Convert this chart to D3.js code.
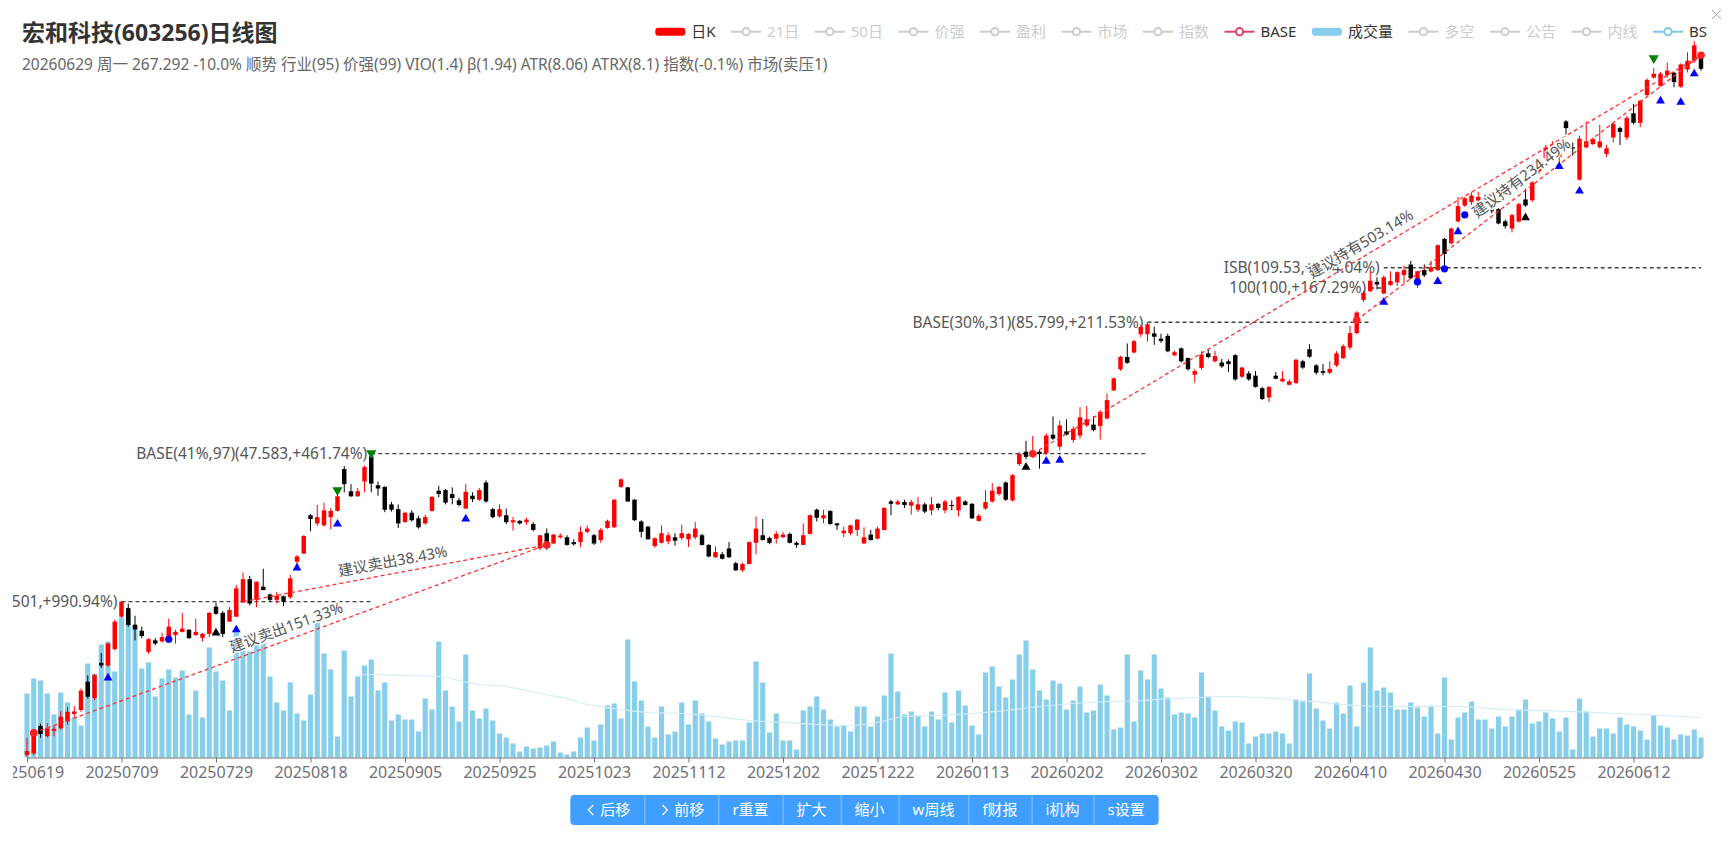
<!DOCTYPE html>
<html lang="zh-CN">
<head>
<meta charset="utf-8"/>
<title>宏和科技(603256)日线图</title>
<script src="https://d3js.org/d3.v7.min.js"></script>
<style>
  html, body { margin: 0; background: #fff; }
  svg { display: block; font-family: "Noto Sans", "Noto Sans CJK SC", sans-serif; }
</style>
</head>
<body>
<svg id="chart" width="1736" height="852"></svg>
<script>
// trading calendar (weekdays minus exchange holidays)
const holidays = ["20251001","20251002","20251003","20251006","20251007","20251008",
  "20260101","20260102","20260216","20260217","20260218","20260219","20260220","20260223",
  "20260406","20260501","20260504","20260505","20260619"];
const fmt = d3.timeFormat("%Y%m%d");
const dates = d3.timeDay.range(new Date(2025, 5, 19), new Date(2026, 5, 30))
  .filter(d => d.getDay() % 6 !== 0)
  .map(fmt)
  .filter(s => !holidays.includes(s));

const tickLabels = ["20250619","20250709","20250729","20250818","20250905","20250925","20251023",
  "20251112","20251202","20251222","20260113","20260202","20260302","20260320","20260410",
  "20260430","20260525","20260612"];

const open = [12.32,12.40,14.03,13.40,13.73,13.88,14.30,14.80,15.07,17.11,
15.90,18.62,18.40,19.80,22.90,23.80,22.10,21.50,19.56,20.60,
20.50,20.90,21.10,21.40,21.60,21.10,20.85,21.20,23.95,23.30,
22.40,22.90,24.40,27.10,24.70,26.20,25.30,24.70,25.10,25.00,
29.30,30.40,36.10,34.80,34.50,35.80,36.80,44.40,40.20,39.30,
42.00,47.00,41.30,41.00,37.90,37.10,35.00,36.50,35.60,34.80,
36.80,40.30,40.40,39.70,38.60,37.20,39.40,38.70,41.80,37.10,
35.90,36.10,34.96,35.20,35.00,34.70,31.10,33.30,31.80,32.70,
32.70,32.00,32.00,33.50,33.00,32.30,34.10,34.20,41.00,40.90,
38.70,35.10,34.30,31.45,31.90,32.10,32.70,32.60,32.40,32.70,
33.00,31.60,29.90,30.30,31.10,29.10,28.20,29.00,31.90,33.00,
32.60,32.50,32.70,33.20,31.90,31.60,33.20,37.00,35.60,36.80,
34.80,33.30,33.30,33.80,31.80,33.10,32.50,33.80,38.40,37.90,
38.30,37.70,37.00,37.90,36.90,38.00,36.90,37.80,36.90,38.40,
38.00,35.20,37.20,38.40,39.70,41.80,38.60,45.40,48.00,47.10,
48.00,47.70,51.80,49.10,52.60,50.60,51.60,54.00,54.20,53.90,
55.70,63.20,69.50,73.40,74.90,81.30,81.30,81.60,79.70,80.70,
74.00,76.30,73.10,67.80,69.90,74.60,72.00,71.60,72.00,74.00,
67.20,68.20,67.50,63.80,61.20,67.50,65.80,64.80,65.30,72.00,
76.00,70.70,68.90,68.40,70.70,73.00,76.60,81.70,94.80,98.60,
102.80,97.60,101.40,102.60,106.00,111.10,104.00,108.40,107.70,108.40,
124.70,122.20,134.80,144.80,147.00,148.00,150.00,142.90,142.50,134.90,
130.60,134.80,148.80,148.20,168.80,179.30,185.00,180.00,211.10,188.00,
162.60,188.00,190.70,188.00,182.50,196.50,204.90,196.50,219.00,209.80,
237.60,257.00,247.70,259.60,262.60,246.70,266.50,277.20,283.00];

const high = [13.30,13.80,14.17,14.20,14.05,15.00,15.30,15.33,16.60,17.60,
17.70,19.45,20.40,22.60,24.60,24.30,23.00,21.90,20.80,20.80,
21.30,22.70,21.60,23.30,21.65,22.70,21.30,23.40,24.40,23.50,
23.90,26.40,27.90,27.50,26.80,28.40,25.40,25.60,25.20,27.60,
30.20,33.00,36.30,37.80,38.20,37.30,39.60,45.00,41.50,40.80,
45.10,47.58,42.00,41.10,38.30,37.90,36.70,36.90,36.00,36.20,
39.30,41.20,40.60,40.90,39.00,41.50,40.00,40.80,42.20,37.30,
37.90,37.20,35.80,35.30,35.70,35.00,33.00,34.00,33.20,33.30,
33.00,32.40,34.30,34.50,33.20,34.10,35.40,38.80,42.60,41.00,
38.80,35.30,34.40,32.70,34.50,33.40,33.30,34.60,33.30,35.00,
33.20,31.70,31.40,30.60,32.00,29.30,29.20,32.10,35.90,35.50,
32.80,33.60,33.50,33.40,32.10,34.80,36.20,37.20,37.00,36.90,
34.90,34.30,34.60,35.50,34.20,33.80,34.30,37.40,38.70,38.70,
38.70,38.70,39.20,38.20,39.20,38.10,38.70,38.60,39.30,38.60,
38.10,36.30,40.40,41.70,41.20,42.00,43.40,47.90,50.40,51.50,
48.40,52.10,56.20,55.20,55.50,53.80,58.60,58.90,56.30,57.80,
62.30,67.00,73.80,78.00,79.30,84.90,85.80,84.10,81.50,81.50,
75.50,76.60,73.10,69.50,75.30,75.90,75.50,72.80,72.60,74.30,
70.30,68.90,68.90,64.20,64.40,68.60,68.90,66.40,72.80,72.50,
77.70,71.10,71.10,72.00,75.30,77.70,84.30,90.10,98.80,107.80,
105.00,105.80,107.80,107.80,110.60,113.00,108.00,111.20,113.00,121.60,
125.10,131.20,150.40,150.40,153.70,154.00,152.00,146.00,143.10,135.90,
139.60,146.60,156.10,161.60,174.20,190.00,193.00,186.00,212.50,192.00,
198.00,211.00,196.50,208.00,190.00,210.00,206.30,216.60,228.40,232.70,
256.10,268.10,263.80,275.10,263.80,273.90,287.90,302.70,286.00];

const low = [12.20,12.30,13.30,13.32,13.40,13.80,14.10,14.60,14.95,15.87,
15.75,18.20,18.30,19.70,22.80,21.90,20.60,20.80,19.40,20.15,
20.40,20.80,20.30,21.35,20.75,21.00,20.50,20.90,23.10,20.90,
22.40,22.90,24.40,24.10,23.90,25.80,24.50,24.30,24.00,24.80,
28.90,30.30,33.60,34.40,34.30,33.90,36.70,40.00,39.20,39.20,
40.00,40.00,39.40,36.60,36.70,34.10,34.90,35.10,34.00,34.60,
36.70,39.10,37.90,37.90,37.60,37.10,38.30,38.50,38.20,35.60,
35.70,34.70,33.70,34.60,34.60,33.60,30.90,30.90,31.70,32.50,
31.50,31.50,31.30,33.30,31.60,31.90,34.00,34.10,40.80,38.30,
35.20,32.70,32.40,31.20,31.80,31.70,31.50,32.30,31.30,32.40,
31.50,29.90,29.80,29.60,29.80,28.10,28.00,29.00,30.30,32.20,
31.70,31.80,32.60,31.80,31.20,31.60,33.10,35.10,34.80,34.60,
33.80,32.70,33.00,32.90,31.80,32.20,32.40,33.70,36.10,37.80,
37.30,36.20,36.60,36.40,36.10,36.90,36.40,36.90,35.90,37.70,
35.50,35.10,37.00,38.20,39.40,38.50,38.40,45.00,46.40,46.70,
44.50,47.40,50.60,48.30,51.60,50.00,50.90,53.60,52.60,50.70,
55.50,63.00,69.00,71.20,74.60,80.30,78.70,77.50,78.20,75.00,
73.70,71.60,69.10,65.40,69.30,73.00,71.60,69.90,68.60,66.00,
66.80,66.00,64.00,60.50,59.90,66.40,65.60,64.60,65.10,69.60,
73.10,67.80,67.60,68.00,70.20,72.80,75.90,81.30,94.00,98.10,
99.40,97.20,101.00,101.00,102.30,104.00,100.00,105.00,107.30,107.90,
109.53,121.50,134.20,143.90,145.30,146.00,145.00,140.00,133.10,130.60,
128.40,134.00,143.90,147.20,167.00,177.00,183.00,176.00,199.00,181.00,
162.00,187.00,190.00,187.00,180.00,192.00,190.00,194.30,208.40,205.90,
235.90,255.80,246.70,257.00,246.00,245.50,263.00,274.50,265.00];

const close = [12.54,13.74,13.53,13.88,13.85,14.63,14.95,14.97,16.44,16.00,
17.62,18.40,20.30,22.40,24.50,22.07,21.63,21.00,20.70,20.30,
20.90,21.90,21.40,21.70,20.80,21.40,21.20,23.30,23.20,21.20,
23.60,26.00,27.10,24.30,26.80,25.80,24.70,25.15,24.50,27.20,
30.00,32.90,35.50,35.80,36.90,36.80,39.30,41.50,39.30,40.20,
44.80,41.60,40.70,37.00,37.00,34.80,36.50,35.30,34.20,35.80,
39.20,39.70,38.20,39.00,37.80,40.10,38.80,40.40,38.40,35.80,
37.10,35.00,35.30,34.80,35.40,33.80,33.00,31.40,33.10,32.95,
31.60,31.70,33.50,34.00,31.80,33.80,35.20,38.70,42.40,38.40,
35.30,33.50,32.40,32.55,33.30,33.00,32.20,33.30,33.20,34.00,
31.60,30.00,30.60,29.70,29.90,28.20,29.00,32.00,34.00,32.30,
31.90,33.20,33.10,31.90,31.60,33.00,36.10,35.70,36.10,34.70,
34.50,33.70,34.50,35.40,32.70,32.30,34.00,37.30,38.00,38.40,
37.80,38.30,37.90,36.70,37.90,37.30,38.40,37.60,39.20,37.80,
35.60,36.00,38.30,40.30,41.00,38.70,43.20,47.50,46.90,47.90,
47.50,51.60,50.90,54.00,51.80,53.20,56.00,55.50,52.90,57.40,
60.50,66.70,73.40,71.50,78.80,84.00,85.00,80.40,78.90,75.30,
75.00,72.00,69.50,68.90,74.20,73.40,73.70,70.40,71.10,66.40,
70.00,66.40,64.20,60.80,64.20,66.60,66.60,65.80,72.50,70.00,
73.50,68.40,68.40,69.60,74.60,77.10,81.70,89.60,97.90,103.30,
101.60,105.00,103.20,107.40,108.40,104.50,107.80,105.90,109.70,121.20,
116.50,130.60,144.40,149.50,151.40,150.50,147.00,141.10,133.60,132.00,
138.70,145.70,144.80,160.50,172.40,187.80,190.00,183.00,204.90,187.00,
195.50,193.10,195.00,193.00,187.10,208.70,201.50,214.30,209.80,231.70,
254.40,261.50,261.50,265.20,251.90,272.70,277.20,297.00,267.29];

const volume = [64,79,77,64,43,65,55,40,32,94,
84,113,116,86,140,145,131,89,95,61,
79,88,80,87,43,67,40,110,86,77,
47,127,107,106,113,119,81,55,47,75,
44,37,63,136,104,88,21,107,61,81,
92,98,67,75,37,43,38,38,26,59,
48,116,67,51,36,103,47,39,49,37,
24,20,14,6,11,9,10,12,16,5,
3,6,20,30,17,33,52,54,39,118,
76,57,31,20,51,23,26,55,33,57,
44,36,19,13,16,17,17,35,96,75,
25,44,17,17,8,47,51,61,48,38,
31,32,26,51,51,31,41,62,104,66,
43,46,42,31,46,38,65,35,67,52,
32,23,85,91,71,60,78,103,117,88,
67,58,77,74,48,57,71,45,47,73,
62,28,30,103,36,87,78,103,69,60,
43,45,44,40,85,61,47,31,27,36,
35,14,21,24,24,26,24,14,58,56,
84,49,37,29,55,44,72,31,75,110,
67,70,65,48,48,55,50,41,52,24,
80,18,40,45,56,38,38,29,41,31,
41,48,58,34,36,45,39,26,40,8,
59,46,21,29,29,24,40,33,31,27,
18,42,32,30,18,23,22,28,20];

// volume moving average, read at a few candles
const volMaIdx = [49,51,56,61,66,71,76,81,83,87,92,97,102,107,112,117,122,126,130,135,140,145,150,155,160,165,170,178,187,192,197,202,212,219,229,239,248];
const volMaVal = [82,83,82,81,74,71,64,57,53,49,45,44,41,37,35,33,32,35,41,42,44,47,51,54,56,57,59,61,58,55,52,51,51,48,46,43,40];

// horizontal reference levels
const levelLabels = ["BASE(52%,14)(24.501,+990.94%)","BASE(41%,97)(47.583,+461.74%)",
  "BASE(30%,31)(85.799,+211.53%)","100(100,+167.29%)","ISB(109.53,+144.04%)"];
const levelPrices = [24.501, 47.583, 85.799, 100, 109.53];
const levelFrom = [14, 51, 166, 199, 201];
const levelTo = [51, 166, 199, 201, 248];

// trend suggestions: label, start [candle, price], end [candle, price]
const trendLabels = ["建议卖出151.33%","建议卖出38.43%","建议持有503.14%","建议持有234.49%"];
const trendFrom = [[1, 13.6], [32, 24.5], [149, 47.55], [197, 86.6]];
const trendTo = [[77, 31.6], [77, 31.6], [248, 284], [248, 284]];

// BS markers: [candle, price]
const buyTri = [[12,17.4],[31,21.6],[40,28.5],[46,34.7],[65,35.5],[151,46.0],[153,46.2],[201,93.9],
  [209,103.0],[212,128.8],[227,172.6],[230,154.5],[242,231.5],[245,230.1],[247,261.4]];
const holdDot = [[21,20.7],[206,102.8],[210,109.0],[213,138.8]];
const warnTri = [[28,21.3],[148,44.8],[222,137.1]];
const sellTri = [[46,40.4],[51,47.7],[241,280.5]];
const pivotDot = [[1,13.6],[77,31.6],[149,47.55],[197,86.6],[248,284]];

const legendNames = ["日K","21日","50日","价强","盈利","市场","指数","BASE","成交量","多空","公告","内线","BS"];
const legendOn = [true,false,false,false,false,false,false,true,true,false,false,false,true];
const legendColor = ["#ff0000","#ccc","#ccc","#ccc","#ccc","#ccc","#ccc","#dd4466","#87ceeb","#ccc","#ccc","#ccc","#7ec8ea"];
const legendShape = ["rect","line","line","line","line","line","line","line","rect","line","line","line","line"];

const buttonLabels = ["后移","前移","r重置","扩大","缩小","w周线","f财报","i机构","s设置"];

const title = "宏和科技(603256)日线图";
const subtitle = "20260629 周一 267.292 -10.0% 顺势 行业(95) 价强(99) VIO(1.4) β(1.94) ATR(8.06) ATRX(8.1) 指数(-0.1%) 市场(卖压1)";

// ---------------------------------------------------------------
const svg = d3.select("#chart");
const x = d3.scalePoint().domain(dates).range([27, 1701]);
const step = x.step();
const y = d3.scaleLog().domain([12, 300]).range([760.8, 43.1]);
const yVol = d3.scaleLinear().domain([0, 140]).range([757.5, 617.5]);
const xi = i => x(dates[i]);

svg.append("defs").append("clipPath").attr("id", "plotClip")
  .append("rect").attr("x", 13).attr("y", 0).attr("width", 1710).attr("height", 790);
const plot = svg.append("g").attr("clip-path", "url(#plotClip)");

const candles = dates.map((d, i) => ({ d, o: open[i], h: high[i], l: low[i], c: close[i], v: volume[i] }));

// volume
plot.append("g").selectAll("rect").data(candles).join("rect")
  .attr("x", d => x(d.d) - step * 0.38)
  .attr("width", step * 0.76)
  .attr("y", d => yVol(d.v))
  .attr("height", d => yVol(0) - yVol(d.v))
  .attr("fill", "#87ceeb");

plot.append("path")
  .datum(d3.zip(volMaIdx, volMaVal))
  .attr("d", d3.line().x(d => xi(d[0])).y(d => yVol(d[1])).curve(d3.curveMonotoneX))
  .attr("fill", "none").attr("stroke", "#d3edf8").attr("stroke-width", 1.2);

// reference levels
levelLabels.forEach((lab, k) => {
  const yy = y(levelPrices[k]);
  plot.append("line")
    .attr("x1", xi(levelFrom[k])).attr("x2", xi(levelTo[k]))
    .attr("y1", yy).attr("y2", yy)
    .attr("stroke", "#444").attr("stroke-width", 1.4).attr("stroke-dasharray", "4,3");
  plot.append("text")
    .attr("x", xi(levelFrom[k]) - 4).attr("y", yy).attr("dy", "0.35em")
    .attr("text-anchor", "end").attr("font-size", 15.5).attr("fill", "#555")
    .text(lab);
});

// candles
const bw = step * 0.66;
const cg = plot.append("g").selectAll("g").data(candles).join("g")
  .attr("fill", d => d.c >= d.o ? "#ff0000" : "#000")
  .attr("stroke", d => d.c >= d.o ? "#ff0000" : "#000");
cg.append("line")
  .attr("x1", d => x(d.d)).attr("x2", d => x(d.d))
  .attr("y1", d => y(d.h)).attr("y2", d => y(d.l))
  .attr("stroke-width", 1);
cg.append("rect")
  .attr("x", d => x(d.d) - bw / 2).attr("width", bw)
  .attr("y", d => y(Math.max(d.o, d.c)))
  .attr("height", d => Math.max(1, y(Math.min(d.o, d.c)) - y(Math.max(d.o, d.c))))
  .attr("stroke", "none");

// trend lines
trendLabels.forEach((lab, k) => {
  plot.append("line")
    .attr("x1", xi(trendFrom[k][0])).attr("y1", y(trendFrom[k][1]))
    .attr("x2", xi(trendTo[k][0])).attr("y2", y(trendTo[k][1]))
    .attr("stroke", "#ff3030").attr("stroke-width", 1.3).attr("stroke-dasharray", "4,3");
});

// markers
const sym = (type, size) => d3.symbol().type(type).size(size)();
plot.append("g").selectAll("path").data(buyTri).join("path")
  .attr("d", sym(d3.symbolTriangle, 34))
  .attr("transform", d => `translate(${xi(d[0])},${y(d[1])})`).attr("fill", "#0000ff");
plot.append("g").selectAll("path").data(warnTri).join("path")
  .attr("d", sym(d3.symbolTriangle, 34))
  .attr("transform", d => `translate(${xi(d[0])},${y(d[1])})`).attr("fill", "#000");
plot.append("g").selectAll("path").data(sellTri).join("path")
  .attr("d", sym(d3.symbolTriangle, 44))
  .attr("transform", d => `translate(${xi(d[0])},${y(d[1])}) rotate(180)`).attr("fill", "#008000");
plot.append("g").selectAll("circle").data(holdDot).join("circle")
  .attr("cx", d => xi(d[0])).attr("cy", d => y(d[1])).attr("r", 3.6).attr("fill", "#0000ff");
plot.append("g").selectAll("circle").data(pivotDot).join("circle")
  .attr("cx", d => xi(d[0])).attr("cy", d => y(d[1])).attr("r", 3.8).attr("fill", "#ff2020");

// trend labels, placed at the midpoint just above each line
trendLabels.forEach((lab, k) => {
  const x1 = xi(trendFrom[k][0]), y1 = y(trendFrom[k][1]);
  const x2 = xi(trendTo[k][0]), y2 = y(trendTo[k][1]);
  const len = Math.hypot(x2 - x1, y2 - y1);
  const ux = (x2 - x1) / len, uy = (y2 - y1) / len;
  const mx = (x1 + x2) / 2 + uy * 7, my = (y1 + y2) / 2 - ux * 7;
  const ang = Math.atan2(y2 - y1, x2 - x1) * 180 / Math.PI;
  plot.append("text")
    .attr("transform", `translate(${mx},${my}) rotate(${ang})`)
    .attr("text-anchor", "middle").attr("font-size", 15).attr("fill", "#555")
    .attr("stroke", "#fff").attr("stroke-width", 3).attr("paint-order", "stroke")
    .text(lab);
});

// x axis
const ag = plot.append("g").attr("transform", "translate(0,757.5)")
  .call(d3.axisBottom(x).tickValues(tickLabels).tickSize(5).tickSizeOuter(0).tickPadding(4));
ag.attr("font-size", 16).attr("font-family", null);
ag.select(".domain").attr("stroke", "#6e7079");
ag.selectAll(".tick line").attr("stroke", "#6e7079");
ag.selectAll(".tick text").attr("fill", "#6e7079");

// title
svg.append("text").attr("x", 22).attr("y", 41).attr("font-size", 23).attr("font-weight", "bold")
  .attr("fill", "#333").text(title);
svg.append("text").attr("x", 22).attr("y", 70).attr("font-size", 15.5)
  .attr("fill", "#666").text(subtitle);

// legend, laid out from the right
const lg = svg.append("g").attr("font-size", 15);
let cursor = 1707;
for (let k = legendNames.length - 1; k >= 0; k--) {
  const t = lg.append("text").attr("y", 31.7).attr("dy", "0.35em")
    .attr("fill", legendOn[k] ? "#333" : "#ccc").text(legendNames[k]);
  const w = t.node().getComputedTextLength();
  t.attr("x", cursor - w);
  const ix = cursor - w - 6 - 30;
  if (legendShape[k] === "rect") {
    lg.append("rect").attr("x", ix).attr("y", 27.7).attr("width", 30).attr("height", 8)
      .attr("rx", 3).attr("fill", legendColor[k]);
  } else {
    lg.append("line").attr("x1", ix).attr("x2", ix + 30).attr("y1", 31.7).attr("y2", 31.7)
      .attr("stroke", legendColor[k]).attr("stroke-width", 2);
    lg.append("circle").attr("cx", ix + 15).attr("cy", 31.7).attr("r", 3.6)
      .attr("fill", "#fff").attr("stroke", legendColor[k]).attr("stroke-width", 2);
  }
  cursor = ix - 15.5;
}
svg.append("path").attr("d", "M1712,10L1721,19M1721,10L1712,19")
  .attr("stroke", "#aaa").attr("stroke-width", 1).attr("fill", "none");

// button bar
const bg = svg.append("g").attr("font-size", 15);
const widths = buttonLabels.map((lab, k) => {
  const t = bg.append("text").attr("visibility", "hidden").text(lab);
  const w = t.node().getComputedTextLength();
  t.remove();
  return w + 28 + (k < 2 ? 12 + 4 : 0);
});
const total = d3.sum(widths);
let bx = 864.5 - total / 2;
bg.append("rect").attr("x", bx).attr("y", 795).attr("width", total).attr("height", 30)
  .attr("rx", 4).attr("fill", "#409eff");
buttonLabels.forEach((lab, k) => {
  const w = widths[k];
  if (k > 0) {
    bg.append("line").attr("x1", bx + 0.5).attr("x2", bx + 0.5).attr("y1", 795).attr("y2", 825)
      .attr("stroke", "#8cc5ff").attr("stroke-width", 1);
  }
  if (k < 2) {
    const cx = bx + 20;
    const pts = k === 0 ? [[cx + 3, 805], [cx - 2, 810], [cx + 3, 815]] : [[cx - 2, 805], [cx + 3, 810], [cx - 2, 815]];
    bg.append("path").attr("d", d3.line()(pts)).attr("fill", "none")
      .attr("stroke", "#fff").attr("stroke-width", 1.2);
    bg.append("text").attr("x", bx + 30).attr("y", 810).attr("dy", "0.35em")
      .attr("fill", "#fff").text(lab);
  } else {
    bg.append("text").attr("x", bx + w / 2).attr("y", 810).attr("dy", "0.35em")
      .attr("text-anchor", "middle").attr("fill", "#fff").text(lab);
  }
  bx += w;
});
</script>
</body>
</html>
